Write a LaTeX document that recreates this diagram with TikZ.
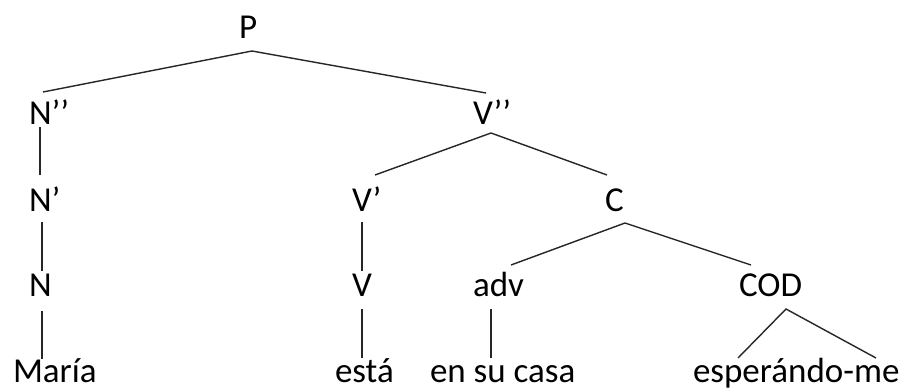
\documentclass[tikz,border=0pt]{standalone}
\usepackage{fontspec}
\setmainfont{Carlito}
\begin{document}
\begin{tikzpicture}[x=1pt,y=-1pt,
  lab/.style={inner sep=0pt,outer sep=0pt,anchor=base west,font=\fontsize{35}{40}\selectfont,text=black},
  edge/.style={line width=1.4pt,draw=black!85}]
\useasboundingbox[fill=white] (0,0) rectangle (908,388);
% labels
\node[lab] (P)  at (239,38)  {P};
\node[lab] (N2) at (29,124)  {N’’};
\node[lab] (V2) at (473,124) {V’’};
\node[lab] (N1) at (29,211)  {N’};
\node[lab] (V1) at (352,211) {V’};
\node[lab] (C)  at (605,211) {C};
\node[lab] (N)  at (29,296)  {N};
\node[lab] (V)  at (352,296) {V};
\node[lab] (adv) at (473,296) {adv};
\node[lab] (COD) at (739,296) {COD};
\node[lab] (maria) at (13,382) {María};
\node[lab] (esta)  at (335,382) {está};
\node[lab] (casa)  at (430,382) {en su casa};
\node[lab] (esp)   at (693,382) {esperándo-me};
% connector end points
\coordinate (P-s)  at (252,51);
\coordinate (N2-n) at (43,92);
\coordinate (V2-n) at (486,93);
\coordinate (N2-s) at (40,127);
\coordinate (N1-n) at (40,175);
\coordinate (V2-s) at (491,133);
\coordinate (V1-n) at (375,175);
\coordinate (C-n)  at (607,175);
\coordinate (N1-s) at (42,222);
\coordinate (N-n)  at (42,271);
\coordinate (V1-s) at (362,222);
\coordinate (V-n)  at (362,271);
\coordinate (C-s)  at (625,223);
\coordinate (adv-n) at (511,265);
\coordinate (COD-n) at (751,265);
\coordinate (N-s)  at (42,311);
\coordinate (maria-n) at (42,359);
\coordinate (V-s)  at (362,309);
\coordinate (esta-n) at (362,358);
\coordinate (adv-s) at (491,309);
\coordinate (casa-n) at (491,358);
\coordinate (COD-s) at (786,309);
\coordinate (esp-nl) at (738,358);
\coordinate (esp-nr) at (876,358);
% connectors
\draw[edge] (N2-n) -- (P-s) -- (V2-n);
\draw[edge] (N2-s) -- (N1-n);
\draw[edge] (V1-n) -- (V2-s) -- (C-n);
\draw[edge] (N1-s) -- (N-n);
\draw[edge] (V1-s) -- (V-n);
\draw[edge] (adv-n) -- (C-s) -- (COD-n);
\draw[edge] (N-s) -- (maria-n);
\draw[edge] (V-s) -- (esta-n);
\draw[edge] (adv-s) -- (casa-n);
\draw[edge] (esp-nl) -- (COD-s) -- (esp-nr);
\end{tikzpicture}
\end{document}
